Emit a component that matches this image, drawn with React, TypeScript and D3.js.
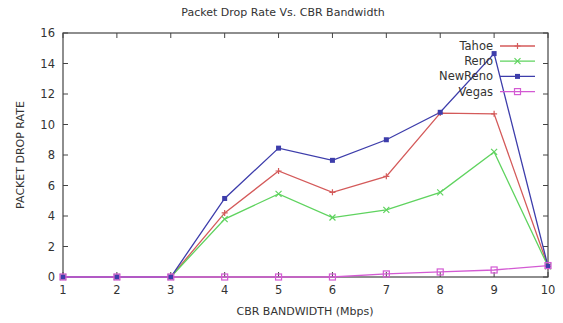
import React, { useEffect, useRef } from "react";
import * as d3 from "d3";

const bandwidth = [1, 2, 3, 4, 5, 6, 7, 8, 9, 10];
const tahoe = [0, 0, 0, 4.2, 6.95, 5.55, 6.6, 10.75, 10.7, 0.7];
const reno = [0, 0, 0, 3.8, 5.45, 3.9, 4.4, 5.55, 8.2, 0.7];
const newReno = [0, 0, 0, 5.15, 8.45, 7.65, 9.0, 10.8, 14.65, 0.7];
const vegas = [0, 0, 0, 0, 0, 0, 0.2, 0.33, 0.46, 0.75];
const yTicks = [0, 2, 4, 6, 8, 10, 12, 14, 16];

const series = [
  { name: "Tahoe", values: tahoe, color: "#d45a5a", marker: "plus" },
  { name: "Reno", values: reno, color: "#5fd35f", marker: "cross" },
  { name: "NewReno", values: newReno, color: "#3d3dab", marker: "star" },
  { name: "Vegas", values: vegas, color: "#d35ad3", marker: "square" },
];

const drawMarker = (g: any, type: string, x: number, y: number, color: string) => {
  const s = 3;
  if (type === "plus") {
    g.append("path").attr("d", `M${x - s},${y}H${x + s}M${x},${y - s}V${y + s}`)
      .attr("stroke", color).attr("stroke-width", 1.2);
  } else if (type === "cross") {
    g.append("path").attr("d", `M${x - s},${y - s}L${x + s},${y + s}M${x - s},${y + s}L${x + s},${y - s}`)
      .attr("stroke", color).attr("stroke-width", 1.2);
  } else if (type === "star") {
    g.append("rect").attr("x", x - 2.5).attr("y", y - 2.5).attr("width", 5).attr("height", 5)
      .attr("fill", color);
  } else {
    g.append("rect").attr("x", x - 3).attr("y", y - 3).attr("width", 6).attr("height", 6)
      .attr("fill", "none").attr("stroke", color).attr("stroke-width", 1.2);
  }
};

export default function App() {
  const ref = useRef<SVGSVGElement>(null);

  useEffect(() => {
    const svg = d3.select(ref.current);
    svg.selectAll("*").remove();

    const left = 63, right = 548, top = 33, bottom = 277;
    const x = d3.scaleLinear().domain([1, 10]).range([left, right]);
    const y = d3.scaleLinear().domain([0, 16]).range([bottom, top]);
    const font = "DejaVu Sans, sans-serif";
    const axisColor = "#444";

    svg.append("text").attr("x", 283).attr("y", 16).attr("text-anchor", "middle")
      .style("font-family", font).style("font-size", "11px").attr("fill", "#333")
      .text("Packet Drop Rate Vs. CBR Bandwidth");

    // ticks inward, mirrored
    const ticks = svg.append("g").attr("stroke", axisColor).attr("stroke-width", 1);
    bandwidth.forEach((b) => {
      ticks.append("line").attr("x1", x(b)).attr("x2", x(b)).attr("y1", bottom).attr("y2", bottom - 5);
      ticks.append("line").attr("x1", x(b)).attr("x2", x(b)).attr("y1", top).attr("y2", top + 5);
    });
    yTicks.forEach((t) => {
      ticks.append("line").attr("x1", left).attr("x2", left + 5).attr("y1", y(t)).attr("y2", y(t));
      ticks.append("line").attr("x1", right).attr("x2", right - 5).attr("y1", y(t)).attr("y2", y(t));
    });

    svg.append("rect").attr("x", left).attr("y", top).attr("width", right - left)
      .attr("height", bottom - top).attr("fill", "none").attr("stroke", axisColor).attr("stroke-width", 1.2);

    svg.append("g").selectAll("text").data(yTicks).join("text")
      .attr("x", left - 8).attr("y", (d) => y(d) + 4).attr("text-anchor", "end")
      .style("font-family", font).style("font-size", "11.5px").attr("fill", "#333")
      .text((d) => d);

    svg.append("g").selectAll("text").data(bandwidth).join("text")
      .attr("x", (d) => x(d)).attr("y", bottom + 17).attr("text-anchor", "middle")
      .style("font-family", font).style("font-size", "11.5px").attr("fill", "#333")
      .text((d) => d);

    svg.append("text").attr("x", 305).attr("y", 315).attr("text-anchor", "middle")
      .style("font-family", font).style("font-size", "11px").attr("fill", "#333")
      .text("CBR BANDWIDTH (Mbps)");

    svg.append("text").attr("transform", "rotate(-90)").attr("x", -155).attr("y", 24)
      .attr("text-anchor", "middle")
      .style("font-family", font).style("font-size", "11px").attr("fill", "#333")
      .text("PACKET DROP RATE");

    const line = d3.line<number>().x((_, i) => x(bandwidth[i])).y((d) => y(d));

    series.forEach((s) => {
      svg.append("path").datum(s.values).attr("d", line).attr("fill", "none")
        .attr("stroke", s.color).attr("stroke-width", 1.3);
    });
    series.forEach((s) => {
      const g = svg.append("g");
      s.values.forEach((v, i) => drawMarker(g, s.marker, x(bandwidth[i]), y(v), s.color));
    });

    const legend = svg.append("g");
    series.forEach((s, i) => {
      const ly = 46 + i * 15.2;
      legend.append("text").attr("x", 493).attr("y", ly + 4).attr("text-anchor", "end")
        .style("font-family", font).style("font-size", "11.5px").attr("fill", "#333").text(s.name);
      legend.append("line").attr("x1", 500).attr("x2", 535).attr("y1", ly).attr("y2", ly)
        .attr("stroke", s.color).attr("stroke-width", 1.3);
      drawMarker(legend, s.marker, 517.5, ly, s.color);
    });
  }, []);

  return <svg ref={ref} width={563} height={323} style={{ display: "block", position: "absolute", left: 0, top: 0, background: "#fff" }} />;
}
